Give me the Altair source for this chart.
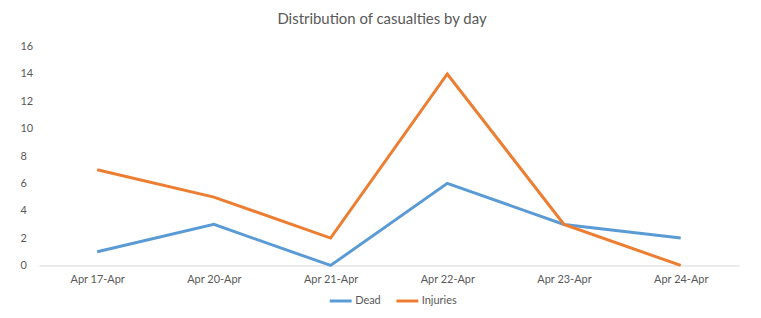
import altair as alt
import pandas as pd

days = ["Apr 17-Apr", "Apr 20-Apr", "Apr 21-Apr", "Apr 22-Apr", "Apr 23-Apr", "Apr 24-Apr"]
dead = [1, 3, 0, 6, 3, 2]
injuries = [7, 5, 2, 14, 3, 0]
series = ["Dead", "Injuries"]
colors = ["#5B9BD5", "#ED7D31"]

rows = []
for d, v in zip(days, dead):
    rows.append({"day": d, "series": "Dead", "value": v})
for d, v in zip(days, injuries):
    rows.append({"day": d, "series": "Injuries", "value": v})
df = pd.DataFrame(rows)

FONT = "Lato"
GRAY = "#595959"

chart = alt.Chart(df).mark_line(strokeWidth=3).encode(
    x=alt.X("day:N", sort=days, title=None,
            scale=alt.Scale(type="point", padding=0.5),
            axis=alt.Axis(labelAngle=0, ticks=False, domainColor="#d9d9d9",
                          labelColor=GRAY, labelFont=FONT, labelFontSize=11,
                          labelPadding=8, grid=False)),
    y=alt.Y("value:Q", title=None,
            scale=alt.Scale(domain=[0, 16], nice=False),
            axis=alt.Axis(values=list(range(0, 17, 2)), ticks=False, domain=False,
                          grid=False, labelAlign="left", labelPadding=19,
                          labelColor=GRAY, labelFont=FONT, labelFontSize=11)),
    color=alt.Color("series:N", scale=alt.Scale(domain=series, range=colors),
                    legend=alt.Legend(title=None, orient="none", direction="horizontal",
                                      legendX=291, legendY=243,
                                      symbolType="stroke", symbolSize=484,
                                      symbolStrokeWidth=3, labelFont=FONT,
                                      labelFontSize=11, labelColor=GRAY,
                                      labelOffset=2, columnPadding=9)),
).properties(
    width=704, height=220,
    background="white",
    title=alt.TitleParams("Distribution of casualties by day", font=FONT,
                          fontSize=15, fontWeight="normal", color=GRAY,
                          anchor="middle", dx=-7, offset=14),
    autosize=alt.AutoSizeParams(type="none"),
    padding={"left": 31, "top": 38, "right": 14, "bottom": 50},
).configure_view(stroke=None)

chart.save("out.html", embed_options={"renderer": "svg", "actions": False})
